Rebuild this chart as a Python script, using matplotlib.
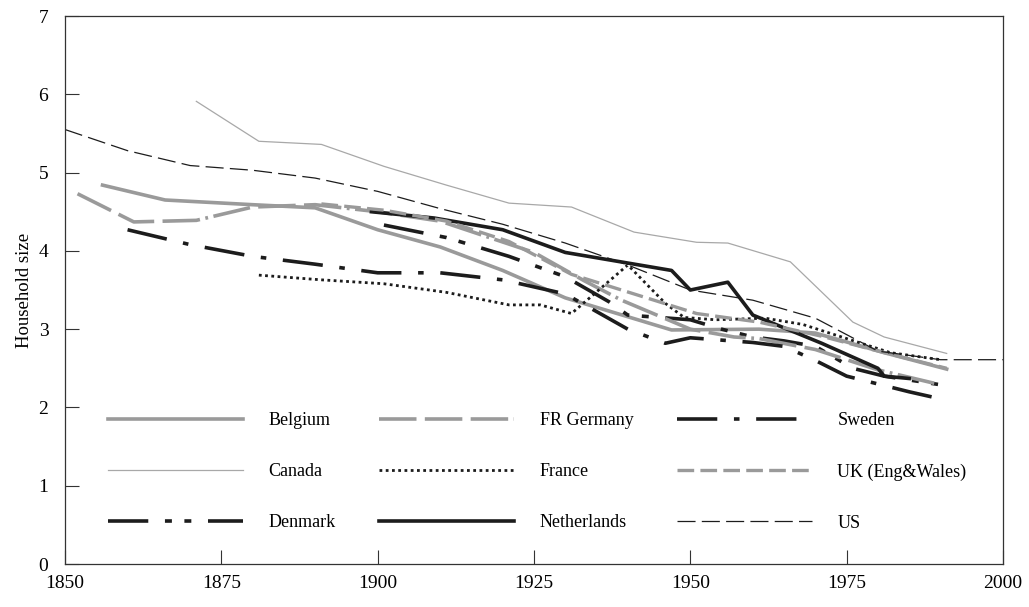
import numpy as np
import matplotlib.pyplot as plt

plt.rcParams['font.family'] = ['Liberation Serif', 'DejaVu Serif']
plt.rcParams['lines.scale_dashes'] = False

# Household size by country
belgium_years = [1856, 1866, 1880, 1890, 1900, 1910, 1920, 1930, 1947, 1961, 1970, 1981, 1991]
belgium = [4.84, 4.65, 4.59, 4.55, 4.27, 4.05, 3.75, 3.40, 2.99, 3.00, 2.95, 2.70, 2.49]

canada_years = [1871, 1881, 1891, 1901, 1911, 1921, 1931, 1941, 1951, 1956, 1961, 1966, 1976, 1981, 1991]
canada = [5.91, 5.40, 5.36, 5.08, 4.84, 4.61, 4.56, 4.24, 4.11, 4.10, 3.98, 3.86, 3.09, 2.90, 2.69]

denmark_years = [1901, 1911, 1921, 1930, 1937, 1940, 1950, 1955, 1960, 1965, 1970, 1976, 1981, 1990]
denmark = [4.33, 4.17, 3.93, 3.67, 3.35, 3.18, 3.12, 3.00, 2.90, 2.85, 2.78, 2.50, 2.40, 2.29]

germany_years = [1852, 1861, 1871, 1880, 1890, 1900, 1910, 1925, 1933, 1939, 1950, 1957, 1961, 1970, 1980, 1990]
germany = [4.73, 4.37, 4.39, 4.56, 4.59, 4.50, 4.38, 3.98, 3.62, 3.37, 3.00, 2.90, 2.88, 2.74, 2.48, 2.29]

france_years = [1881, 1891, 1901, 1911, 1921, 1926, 1931, 1940, 1946, 1949, 1954, 1962, 1968, 1975, 1982, 1990]
france = [3.69, 3.63, 3.58, 3.47, 3.31, 3.31, 3.20, 3.82, 3.33, 3.15, 3.12, 3.14, 3.06, 2.88, 2.70, 2.61]

netherlands_years = [1899, 1909, 1920, 1930, 1947, 1950, 1956, 1960, 1971, 1980, 1981, 1985]
netherlands = [4.50, 4.42, 4.27, 3.98, 3.75, 3.50, 3.60, 3.18, 2.82, 2.50, 2.40, 2.37]

sweden_years = [1860, 1870, 1880, 1890, 1900, 1910, 1920, 1930, 1940, 1946, 1950, 1960, 1965, 1970, 1975, 1980, 1985, 1990]
sweden = [4.27, 4.08, 3.93, 3.83, 3.72, 3.72, 3.63, 3.45, 3.00, 2.82, 2.89, 2.83, 2.78, 2.60, 2.40, 2.30, 2.20, 2.11]

uk_years = [1891, 1901, 1911, 1921, 1931, 1951, 1961, 1971, 1981, 1991]
uk = [4.60, 4.52, 4.38, 4.12, 3.70, 3.20, 3.09, 2.91, 2.70, 2.50]

us_years = [1850, 1860, 1870, 1880, 1890, 1900, 1910, 1920, 1930, 1940, 1950, 1960, 1970, 1980, 1990, 2000]
us = [5.55, 5.28, 5.09, 5.03, 4.93, 4.76, 4.54, 4.34, 4.10, 3.82, 3.50, 3.37, 3.14, 2.72, 2.61, 2.61]

grey = '#9a9a9a'
dark = '#1c1c1c'

series = [
    ('Belgium', belgium_years, belgium, dict(color=grey, lw=2.6)),
    ('Canada', canada_years, canada, dict(color='#a8a8a8', lw=0.9)),
    ('Denmark', denmark_years, denmark, dict(color=dark, lw=2.6, dashes=(29, 12, 5, 9, 5, 12))),
    ('FR Germany', germany_years, germany, dict(color=grey, lw=2.6, dashes=(27, 6, 27, 6, 27, 4, 2, 4))),
    ('France', france_years, france, dict(color=dark, lw=2.0, dashes=(2, 2.5))),
    ('Netherlands', netherlands_years, netherlands, dict(color=dark, lw=2.6)),
    ('Sweden', sweden_years, sweden, dict(color=dark, lw=2.6, dashes=(29, 12, 4, 12))),
    ('UK (Eng&Wales)', uk_years, uk, dict(color=grey, lw=2.4, dashes=(12, 4.5))),
    ('US', us_years, us, dict(color=dark, lw=0.9, dashes=(13, 4.5))),
]

fig = plt.figure(figsize=(10.29, 6.07), dpi=100)
ax = fig.add_axes([0.0632, 0.0708, 0.9115, 0.9028])

for name, yrs, vals, style in series:
    ax.plot(yrs, vals, label=name, **style)

ax.set_xlim(1850, 2000)
ax.set_ylim(0, 7)
ax.set_xticks(np.arange(1850, 2001, 25))
ax.set_yticks(np.arange(0, 8, 1))
ax.tick_params(direction='in', length=10, width=0.8, labelsize=14, color='#333333')
ax.tick_params(axis='y', pad=12)
ax.tick_params(axis='x', pad=8)
for sp in ax.spines.values():
    sp.set_linewidth(0.9)
    sp.set_color('#333333')
ax.set_ylabel('Household size', fontsize=13.5, labelpad=4)

ax.legend(ncol=3, loc='upper left', bbox_to_anchor=(0.0455, 0.277), frameon=False,
          fontsize=13, handlelength=7.5, handletextpad=1.4, columnspacing=2.4,
          labelspacing=1.89, borderpad=0, borderaxespad=0)

fig.savefig('out.png', dpi=100)
